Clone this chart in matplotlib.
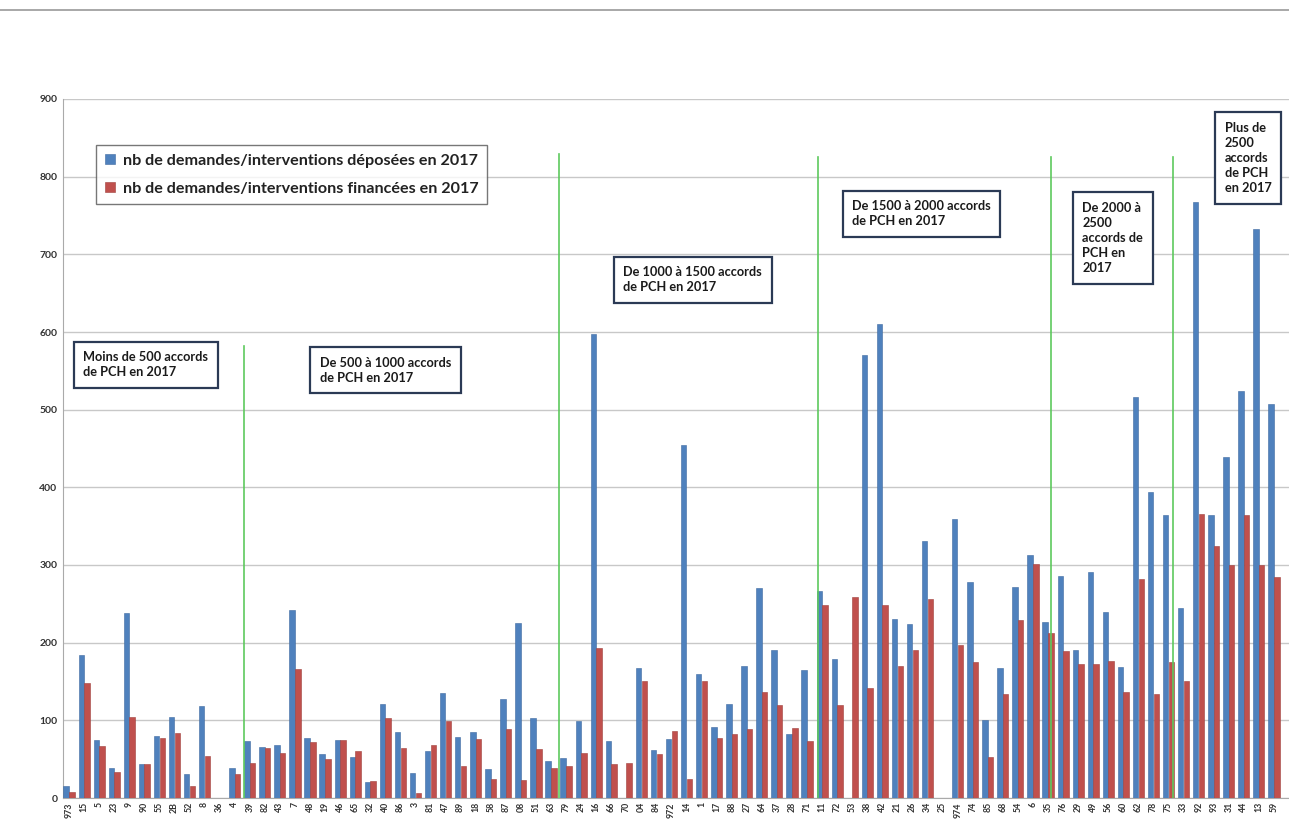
import matplotlib
matplotlib.use("Agg")
import matplotlib.pyplot as plt
from matplotlib.lines import Line2D
import numpy as np

plt.rcParams['font.family'] = ['Lato', 'DejaVu Sans']

departements = ["973", "15", "5", "23", "9", "90", "55", "2B", "52", "8", "36", "4",
                "39", "82", "43", "7", "48", "19", "46", "65", "32", "40", "86", "3", "81", "47",
                "89", "18", "58", "87", "08", "51", "63",
                "79", "24", "16", "66", "70", "04", "84", "972", "14", "1", "17", "88", "27", "64",
                "37", "28", "71",
                "11", "72", "53", "38", "42", "21", "26", "34", "25", "974", "74", "85", "68", "54",
                "6", "35",
                "76", "29", "49", "56", "60", "62", "78", "75",
                "33", "92", "93", "31", "44", "13", "59"]

deposees = [15, 184, 75, 38, 238, 44, 80, 104, 31, 118, 0, 38,
            73, 66, 68, 242, 77, 57, 75, 53, 21, 121, 85, 32, 60, 135,
            78, 85, 37, 128, 225, 103, 48,
            51, 99, 598, 73, 0, 168, 62, 76, 455, 160, 92, 121, 170, 270,
            191, 83, 165,
            266, 179, 0, 571, 610, 230, 224, 331, 0, 359, 278, 100, 167, 272,
            313, 226,
            286, 191, 291, 240, 169, 516, 394, 364,
            245, 768, 364, 439, 524, 733, 507]

financees = [8, 148, 67, 33, 104, 44, 77, 84, 16, 54, 0, 31,
             45, 64, 58, 166, 72, 50, 75, 61, 22, 103, 64, 6, 68, 99,
             41, 76, 24, 89, 23, 63, 39,
             41, 58, 193, 44, 45, 151, 57, 86, 24, 151, 77, 82, 89, 137,
             120, 90, 73,
             248, 120, 259, 141, 248, 170, 190, 256, 0, 197, 175, 53, 134, 229,
             301, 212,
             189, 173, 173, 177, 136, 282, 134, 175,
             151, 366, 325, 300, 364, 300, 285]

groupes = ["Moins de 500 accords\nde PCH en 2017",
           "De 500 à 1000 accords\nde PCH en 2017",
           "De 1000 à 1500 accords\nde PCH en 2017",
           "De 1500 à 2000 accords\nde PCH en 2017",
           "De 2000 à\n2500\naccords de\nPCH en\n2017",
           "Plus de\n2500\naccords\nde PCH\nen 2017"]

legende = ["nb de demandes/interventions déposées en 2017",
           "nb de demandes/interventions financées en 2017"]

BLUE = "#4F81BD"
RED = "#C0504D"
GREEN = "#5DC95D"

fig = plt.figure(figsize=(12.89, 8.34), dpi=100)
fig.patch.set_facecolor("white")
ax = fig.add_axes([63 / 1289, 36 / 834, (1289 - 63) / 1289, (798 - 99) / 834])

x = np.arange(len(departements))
w = 0.36
ax.bar(x - 0.19, deposees, width=w, color=BLUE, edgecolor="#3f6aa0", linewidth=0.4,
       label=legende[0], zorder=3)
ax.bar(x + 0.19, financees, width=w, color=RED, edgecolor="#a03f3c", linewidth=0.4,
       label=legende[1], zorder=3)

ax.set_xlim(-0.4, 81.0)
ax.set_ylim(0, 900)
ax.set_yticks(np.arange(0, 901, 100))
ax.set_yticklabels([str(v) for v in range(0, 901, 100)], fontsize=7.5, fontweight="bold",
                   color="#333333")
ax.set_xticks(x)
ax.set_xticklabels(departements, rotation=90, fontsize=6.3, fontweight="bold", color="#333333")
ax.tick_params(axis="both", length=0, pad=3)
ax.tick_params(axis="y", pad=4)
ax.grid(axis="y", color="#c8c8c8", linewidth=1, zorder=0)
for s in ["top", "right"]:
    ax.spines[s].set_visible(False)
ax.spines["left"].set_color("#aaaaaa")
ax.spines["bottom"].set_color("#aaaaaa")

# group separators
separateurs = [(11.6, 582), (32.5, 829), (49.7, 825), (65.2, 825), (73.3, 825)]
for sx, top in separateurs:
    ax.plot([sx, sx], [0, top], color=GREEN, linewidth=1.2, zorder=4)

# group boxes
positions = [(5.1, 558), (21.0, 551), (41.4, 667), (56.6, 752), (69.3, 721), (78.3, 824)]
bbox = dict(boxstyle="square,pad=0.75", facecolor="white", edgecolor="#2b3a55", linewidth=1.6)
for (bx, by), t in zip(positions, groupes):
    ax.text(bx, by, t, ha="center", va="center", multialignment="left", fontsize=9.2,
            fontweight="bold", color="#1a1a1a", bbox=bbox, zorder=6, linespacing=1.3)

leg = ax.legend(loc="upper left", bbox_to_anchor=(25 / 1226, (798 - 137) / 699),
                fontsize=11.6, frameon=True, fancybox=False, edgecolor="#555555",
                handlelength=0.6, handleheight=0.6, borderpad=0.55, labelspacing=0.85,
                handletextpad=0.5)
leg.get_frame().set_linewidth(1.0)
for t in leg.get_texts():
    t.set_fontweight("bold")
    t.set_color("#222222")

fig.add_artist(Line2D([0, 1], [1 - 10 / 834, 1 - 10 / 834], color="#999999", linewidth=1.2))

fig.savefig("out.png", dpi=100, facecolor="white")
